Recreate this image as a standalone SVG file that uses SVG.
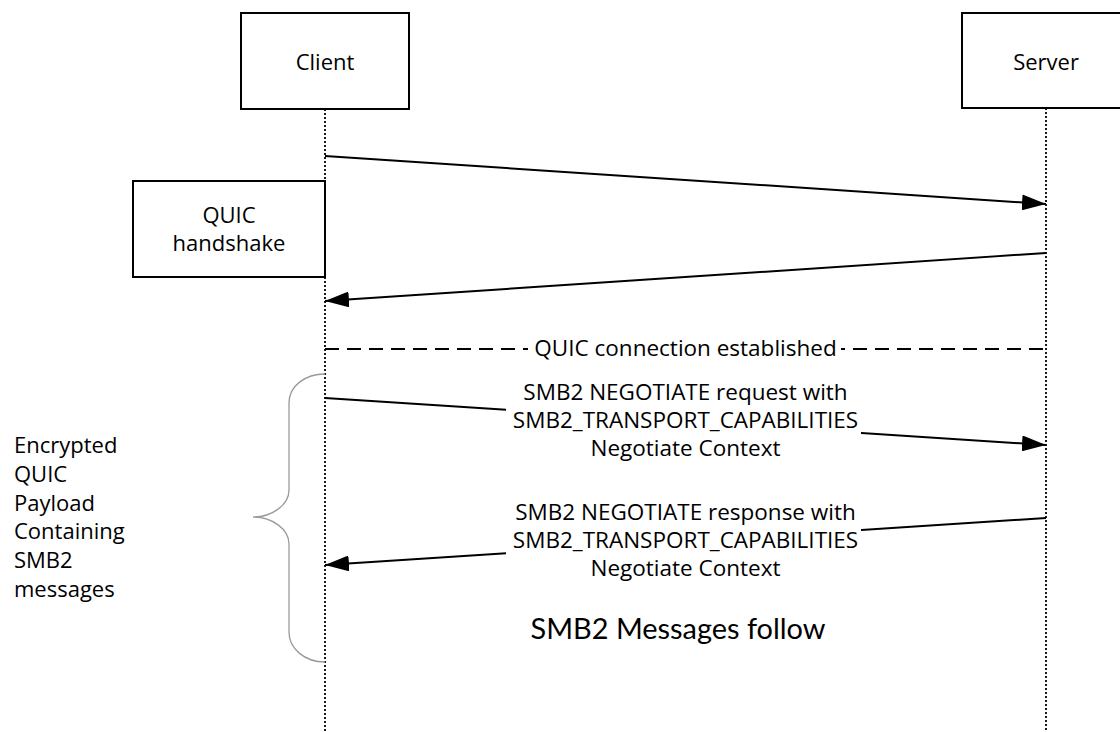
<svg xmlns="http://www.w3.org/2000/svg" width="1120" height="732" viewBox="0 0 1120 732">
  <defs>
    <style>
      .box { fill: #ffffff; stroke: #000000; stroke-width: 2; }
      .life { stroke: #1a1a1a; stroke-width: 2; stroke-dasharray: 2 2; fill: none; }
      .msg { stroke: #000000; stroke-width: 2; fill: none; marker-end: url(#arrow); }
      .t { font-family: "Open Sans", "Noto Sans", sans-serif; font-size: 22px; fill: #000000; }
      .lbl { font-family: "Open Sans", "Noto Sans", sans-serif; font-size: 22.5px; fill: #000000; text-anchor: middle; }
      .c { text-anchor: middle; }
      .bg { fill: #ffffff; stroke: none; }
    </style>
    <marker id="arrow" markerUnits="userSpaceOnUse" markerWidth="24" markerHeight="16" refX="24" refY="8" orient="auto">
      <path d="M0,0 L24,8 L0,16 Z" fill="#000000"/>
    </marker>
  </defs>
  <rect width="1120" height="732" fill="#ffffff"/>

  <g id="lifelines">
    <line class="life" x1="325" y1="109" x2="325" y2="732"/>
    <line class="life" x1="1046" y1="108" x2="1046" y2="732"/>
  </g>

  <g id="client">
    <rect class="box" x="241" y="13" width="168" height="96"/>
    <text class="t c" x="325" y="70">Client</text>
  </g>

  <g id="server">
    <rect class="box" x="962" y="13" width="168" height="95"/>
    <text class="t c" x="1046" y="70">Server</text>
  </g>

  <g id="quic-handshake">
    <rect class="box" x="133" y="181" width="192" height="96"/>
    <text class="t c" x="229" y="223">QUIC</text>
    <text class="t c" x="229" y="251">handshake</text>
  </g>

  <g id="connectors">
    <line class="msg" x1="325" y1="156" x2="1046" y2="204"/>
    <line class="msg" x1="1046" y1="253" x2="325" y2="301"/>
    <line x1="325" y1="349" x2="1046" y2="349" stroke="#000000" stroke-width="1.8" stroke-dasharray="14 8"/>
    <line class="msg" x1="325" y1="398" x2="1046" y2="445"/>
    <line class="msg" x1="1046" y1="518" x2="325" y2="565"/>
  </g>

  <g id="connection-established">
    <rect class="bg" x="528" y="336" width="313" height="26"/>
    <text class="lbl" x="685.5" y="356">QUIC connection established</text>
  </g>

  <g id="negotiate-request-label">
    <rect class="bg" x="506" y="382" width="355" height="82"/>
    <text class="lbl" x="685.5" y="400">SMB2 NEGOTIATE request with</text>
    <text class="lbl" x="685.5" y="428">SMB2_TRANSPORT_CAPABILITIES</text>
    <text class="lbl" x="685.5" y="456">Negotiate Context</text>
  </g>

  <g id="negotiate-response-label">
    <rect class="bg" x="506" y="502" width="355" height="82"/>
    <text class="lbl" x="685.5" y="520">SMB2 NEGOTIATE response with</text>
    <text class="lbl" x="685.5" y="548">SMB2_TRANSPORT_CAPABILITIES</text>
    <text class="lbl" x="685.5" y="576">Negotiate Context</text>
  </g>

  <g id="brace">
    <path d="M325,374 C305,374 289,386 289,403 L289,490 C289,505 272,517 253,517 C272,517 289,529 289,544 L289,632 C289,649 305,662 325,662" fill="none" stroke="#9a9a9a" stroke-width="1.3"/>
  </g>

  <g id="encrypted-label">
    <text class="t" x="14" y="453">Encrypted</text>
    <text class="t" x="14" y="482">QUIC</text>
    <text class="t" x="14" y="511">Payload</text>
    <text class="t" x="14" y="539">Containing</text>
    <text class="t" x="14" y="568">SMB2</text>
    <text class="t" x="14" y="597">messages</text>
  </g>

  <g id="smb2-follow">
    <text x="678" y="639" text-anchor="middle" font-family="Lato, 'Open Sans', sans-serif" font-size="29" textLength="295" lengthAdjust="spacingAndGlyphs" fill="#000000">SMB2 Messages follow</text>
  </g>
</svg>
